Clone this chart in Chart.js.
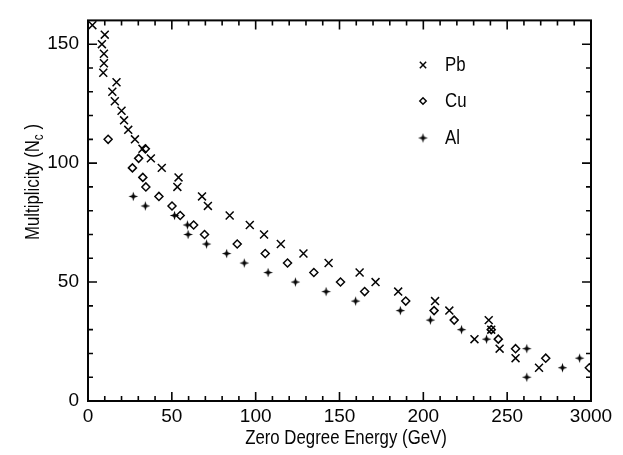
<!DOCTYPE html>
<html>
<head>
<meta charset="utf-8">
<title>Multiplicity vs Zero Degree Energy</title>
<script src="https://cdn.jsdelivr.net/npm/chart.js"></script>
<style>
  body { margin: 0; background: #fff; }
  canvas { display: block; }
</style>
</head>
<body>
<canvas id="myChart" width="623" height="455"></canvas>
<script>
// Pb data
const pbEnergy = [2.6, 10, 8.3, 9.5, 9.5, 9.1, 17, 14.5, 16, 20, 21.5, 24, 28, 32.5, 37.5, 44, 54, 53.3, 68, 71.5,
    84.5, 96.5, 105, 115, 128.5, 143.5, 162, 171.5, 185, 207, 215.5, 239, 240.5, 230.5, 245.5, 255, 269];
const pbMult = [158, 154, 150, 146, 142, 138, 134, 130, 126, 122, 118, 114, 110, 106, 102, 98, 94, 90, 86, 82,
    78, 74, 70, 66, 62, 58, 54, 50, 46, 42, 38, 34, 30, 26, 22, 18, 14];

// Cu data
const cuEnergy = [12, 34.2, 30.2, 26.5, 32.7, 34.5, 42.3, 50.1, 55, 63, 69.5, 89, 105.7, 119, 134.7, 150.6, 165,
    189.5, 206.4, 218.4, 240.5, 244.7, 255, 273, 299];
const cuMult = [110, 106, 102, 98, 94, 90, 86, 82, 78, 74, 70, 66, 62, 58, 54, 50, 46, 42, 38, 34, 30, 26, 22, 18, 14];

// Al data
const alEnergy = [27, 34.2, 51.6, 59.3, 59.7, 70.7, 82.7, 93.2, 107.4, 123.7, 142, 159.6, 186.3, 204.2, 222.8,
    237.7, 261.7, 283, 293.2, 261.7];
const alMult = [86, 82, 78, 74, 70, 66, 62, 58, 54, 50, 46, 42, 38, 34, 30, 26, 22, 14, 18, 10];

const xTickLabels = ['0', '50', '100', '150', '200', '250', '3000'];
const yTickLabels = ['0', '50', '100', '150'];

const FONT = "'Liberation Sans', Arial, Helvetica, sans-serif";
const INK = '#050505';
const NARROW = 0.84; // squeeze factor for the hand drawn texts

// four pointed star used for the Al points
function starMarker() {
    const c = document.createElement('canvas');
    c.width = 11;
    c.height = 11;
    const g = c.getContext('2d');
    const m = 5.5, r = 4.8, k = 1.15;
    g.fillStyle = INK;
    g.beginPath();
    g.moveTo(m, m - r);
    g.lineTo(m + k, m - k);
    g.lineTo(m + r, m);
    g.lineTo(m + k, m + k);
    g.lineTo(m, m + r);
    g.lineTo(m - k, m + k);
    g.lineTo(m - r, m);
    g.lineTo(m - k, m - k);
    g.closePath();
    g.fill();
    return c;
}

function toPoints(xs, ys) {
    return xs.map((x, i) => ({ x: x, y: ys[i] }));
}

// narrow text: origin at (x, y), optional rotation
function narrowText(ctx, parts, x, y, align, rot) {
    ctx.save();
    ctx.translate(x, y);
    if (rot) ctx.rotate(rot);
    ctx.scale(NARROW, 1);
    ctx.textAlign = 'left';
    ctx.textBaseline = 'middle';
    let total = 0;
    parts.forEach(p => { ctx.font = p.size + 'px ' + FONT; p.w = ctx.measureText(p.text).width; total += p.w; });
    let cx = align === 'center' ? -total / 2 : 0;
    parts.forEach(p => {
        ctx.font = p.size + 'px ' + FONT;
        ctx.fillText(p.text, cx, p.dy || 0);
        cx += p.w;
    });
    ctx.restore();
}

// frame, inward ticks, axis titles and the legend box
const framePlugin = {
    id: 'framePlugin',
    beforeDraw(chart) {
        const ctx = chart.ctx;
        ctx.save();
        ctx.fillStyle = '#fff';
        ctx.fillRect(0, 0, chart.width, chart.height);
        ctx.restore();
    },
    afterDatasetsDraw(chart) {
        const ctx = chart.ctx;
        const a = chart.chartArea;
        const xs = chart.scales.x, ys = chart.scales.y;
        ctx.save();
        ctx.strokeStyle = INK;
        ctx.lineWidth = 2;
        ctx.strokeRect(a.left, a.top, a.right - a.left, a.bottom - a.top);

        ctx.lineWidth = 1.6;
        ctx.beginPath();
        for (let v = 10; v < xs.max; v += 10) {
            const p = xs.getPixelForValue(v);
            const len = v % 50 === 0 ? 9 : 5;
            ctx.moveTo(p, a.bottom); ctx.lineTo(p, a.bottom - len);
            ctx.moveTo(p, a.top); ctx.lineTo(p, a.top + len);
        }
        for (let v = 10; v < ys.max; v += 10) {
            const p = ys.getPixelForValue(v);
            const len = v % 50 === 0 ? 9 : 5;
            ctx.moveTo(a.left, p); ctx.lineTo(a.left + len, p);
            ctx.moveTo(a.right, p); ctx.lineTo(a.right - len, p);
        }
        ctx.stroke();
        ctx.restore();
    },
    afterDraw(chart) {
        const ctx = chart.ctx;
        ctx.save();
        ctx.fillStyle = INK;

        // axis titles
        narrowText(ctx, [{ text: 'Zero Degree Energy (GeV)', size: 20 }], 346, 438, 'center');
        narrowText(ctx, [
            { text: 'Multiplicity (N', size: 20 },
            { text: 'c', size: 14, dy: 6 },
            { text: ' )', size: 20 }
        ], 33, 182, 'center', -Math.PI / 2);

        // legend
        const rows = [65, 101, 138];
        chart.data.datasets.forEach((ds, i) => {
            const y = rows[i];
            ctx.strokeStyle = ds.borderColor;
            ctx.fillStyle = ds.backgroundColor;
            ctx.lineWidth = ds.borderWidth;
            if (Chart.helpers && Chart.helpers.drawPoint) {
                Chart.helpers.drawPoint(ctx, {
                    pointStyle: ds.pointStyle,
                    radius: ds.pointRadius * 0.8,
                    rotation: 0,
                    borderWidth: ds.borderWidth
                }, 423, y);
            }
            ctx.fillStyle = INK;
            narrowText(ctx, [{ text: ds.label, size: 20 }], 445, y, 'left');
        });
        ctx.restore();
    }
};

const myChartRef = document.getElementById('myChart').getContext('2d');

new Chart(myChartRef, {
    type: 'scatter',
    data: {
        datasets: [
            {
                label: 'Pb',
                data: toPoints(pbEnergy, pbMult),
                pointStyle: 'crossRot',
                pointRadius: 5.6,
                borderWidth: 1.5,
                borderColor: INK,
                backgroundColor: INK
            },
            {
                label: 'Cu',
                data: toPoints(cuEnergy, cuMult),
                pointStyle: 'rectRot',
                pointRadius: 4,
                borderWidth: 1.5,
                borderColor: INK,
                backgroundColor: 'rgba(0,0,0,0)'
            },
            {
                label: 'Al',
                data: toPoints(alEnergy, alMult),
                pointStyle: starMarker(),
                pointRadius: 5,
                borderWidth: 1,
                borderColor: INK,
                backgroundColor: INK
            }
        ]
    },
    options: {
        responsive: false,
        animation: false,
        events: [],
        layout: { padding: { top: 14, right: 32, left: 0, bottom: 0 } },
        plugins: {
            legend: { display: false },
            tooltip: { enabled: false }
        },
        scales: {
            x: {
                type: 'linear',
                min: 0,
                max: 300,
                grid: { display: false, drawTicks: false },
                border: { display: false },
                ticks: {
                    stepSize: 10,
                    autoSkip: false,
                    maxRotation: 0,
                    padding: 4,
                    color: INK,
                    font: { family: FONT, size: 19 },
                    callback: v => (v % 50 === 0 ? xTickLabels[v / 50] : '')
                },
                afterFit: s => { s.height = 54; }
            },
            y: {
                min: 0,
                max: 160,
                grid: { display: false, drawTicks: false },
                border: { display: false },
                ticks: {
                    stepSize: 10,
                    autoSkip: false,
                    padding: 9,
                    color: INK,
                    font: { family: FONT, size: 19 },
                    callback: v => (v % 50 === 0 ? yTickLabels[v / 50] : '')
                },
                afterFit: s => { s.width = 88; }
            }
        }
    },
    plugins: [framePlugin]
});
</script>
</body>
</html>
